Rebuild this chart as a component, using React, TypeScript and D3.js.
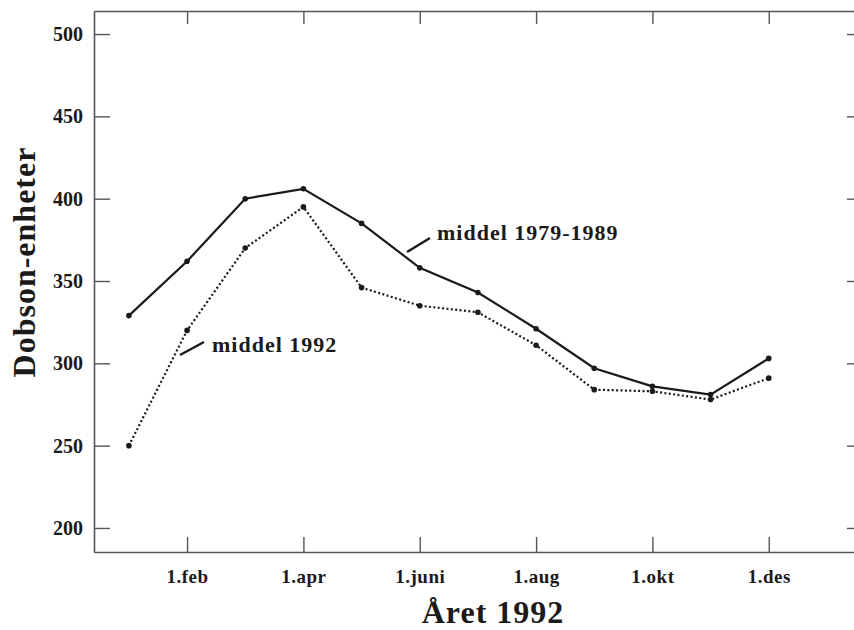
// Ozone (Dobson units) through 1992 compared with the 1979-1989 mean
import React, { useEffect, useRef } from 'react';
import * as d3 from 'd3';

const months = [0, 1, 2, 3, 4, 5, 6, 7, 8, 9, 10, 11];
const mean7989 = [329, 362, 400, 406, 385, 358, 343, 321, 297, 286, 281, 303];
const mean1992 = [250, 320, 370, 395, 346, 335, 331, 311, 284, 283, 278, 291];
const xTickValues = [1, 3, 5, 7, 9, 11];
const xTickLabels = ['1.feb', '1.apr', '1.juni', '1.aug', '1.okt', '1.des'];
const yTickValues = [200, 250, 300, 350, 400, 450, 500];

const W = 854, H = 630;
const FONT = '"Liberation Serif", "Times New Roman", serif';
const INK = '#1a1a1a';
const AXIS = '#555';

export default function App() {
  const ref = useRef<SVGSVGElement>(null);

  useEffect(() => {
    const svg = d3.select(ref.current);
    svg.selectAll('*').remove();

    const x = d3.scaleLinear().domain([-0.6, 12.5]).range([94, 856]);
    const y = d3.scaleLinear().domain([185.4, 514]).range([552, 11]);

    const styleAxis = (size: number, spacing: number) => (g: any) => {
      g.select('.domain').attr('stroke', AXIS).attr('stroke-width', 1.6);
      g.selectAll('.tick line').attr('stroke', AXIS).attr('stroke-width', 1.4);
      g.selectAll('.tick text')
        .attr('fill', INK)
        .style('font-family', FONT)
        .style('font-weight', 'bold')
        .style('font-size', size + 'px')
        .style('letter-spacing', spacing + 'px');
    };

    svg.append('g')
      .attr('transform', 'translate(0,552)')
      .call(d3.axisBottom(x).tickValues(xTickValues)
        .tickFormat((d: any) => xTickLabels[xTickValues.indexOf(d)])
        .tickSize(-15).tickSizeOuter(0).tickPadding(18))
      .call(styleAxis(19, 0.5));

    svg.append('g')
      .attr('transform', 'translate(0,11)')
      .call(d3.axisTop(x).tickValues(xTickValues).tickFormat(() => '')
        .tickSize(-13).tickSizeOuter(0))
      .call(styleAxis(19, 0));

    svg.append('g')
      .attr('transform', 'translate(94,0)')
      .call(d3.axisLeft(y).tickValues(yTickValues).tickFormat(d3.format('d'))
        .tickSize(-16).tickSizeOuter(0).tickPadding(11))
      .call(styleAxis(20, 0));

    svg.append('g')
      .attr('transform', 'translate(857,0)')
      .call(d3.axisRight(y).tickValues(yTickValues).tickFormat(() => '')
        .tickSize(-10).tickSizeOuter(0))
      .call(styleAxis(20, 0));

    const line = d3.line<number>()
      .x((d, i) => x(months[i]))
      .y(d => y(d));

    svg.append('path')
      .datum(mean7989)
      .attr('d', line)
      .attr('fill', 'none')
      .attr('stroke', INK)
      .attr('stroke-width', 2.2);

    svg.append('path')
      .datum(mean1992)
      .attr('d', line)
      .attr('fill', 'none')
      .attr('stroke', INK)
      .attr('stroke-width', 2.2)
      .attr('stroke-dasharray', '2,2.4');

    [mean7989, mean1992].forEach(series => {
      svg.append('g').selectAll('circle')
        .data(series)
        .enter()
        .append('circle')
        .attr('cx', (d, i) => x(months[i]))
        .attr('cy', d => y(d))
        .attr('r', 2.8)
        .attr('fill', INK);
    });

    // labels with leader lines
    svg.append('line')
      .attr('x1', 407).attr('y1', 252).attr('x2', 430).attr('y2', 238)
      .attr('stroke', INK).attr('stroke-width', 2.4);
    svg.append('text')
      .attr('class', 'lbl')
      .attr('x', 437).attr('y', 240)
      .text('middel 1979-1989');

    svg.append('line')
      .attr('x1', 180).attr('y1', 355).attr('x2', 204).attr('y2', 342)
      .attr('stroke', INK).attr('stroke-width', 2.4);
    svg.append('text')
      .attr('class', 'lbl')
      .attr('x', 212).attr('y', 352)
      .text('middel 1992');

    svg.append('text')
      .attr('class', 'title')
      .attr('transform', 'translate(35,262) rotate(-90)')
      .attr('text-anchor', 'middle')
      .text('Dobson-enheter');

    svg.append('text')
      .attr('class', 'title')
      .attr('x', 493).attr('y', 623)
      .attr('text-anchor', 'middle')
      .text('Året 1992');

    svg.selectAll('text.lbl, text.title')
      .attr('fill', INK)
      .style('font-family', FONT)
      .style('font-weight', 'bold');
    svg.selectAll('text.lbl').style('font-size', '22px').style('letter-spacing', '1px');
    svg.selectAll('text.title').style('font-size', '32px').style('letter-spacing', '1px');
  }, []);

  return (
    <svg ref={ref} width={W} height={H}
      style={{ position: 'absolute', left: 0, top: 0, background: '#fff' }} />
  );
}
